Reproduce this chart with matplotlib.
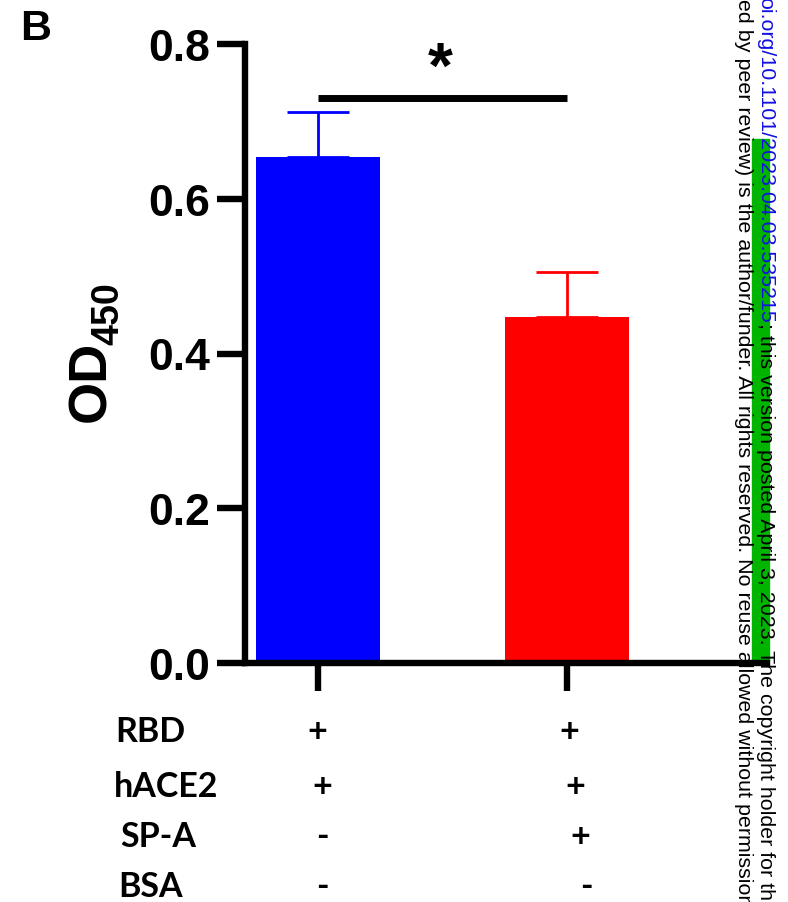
import matplotlib
matplotlib.use("Agg")
import matplotlib.pyplot as plt
from matplotlib.patches import Rectangle

# data
groups = [0, 1]
od450 = [0.654, 0.447]
od450_err = [0.058, 0.058]
bar_colors = ["#0000FF", "#FF0000"]
sig_y = 0.730
yticks = [0.0, 0.2, 0.4, 0.6, 0.8]

row_names = ["RBD", "hACE2", "SP-A", "BSA"]
col1 = ["+", "+", "-", "-"]
col2 = ["+", "+", "+", "-"]

W, H = 788, 903
fig = plt.figure(figsize=(W / 100, H / 100), dpi=100)

def fx(px):
    return px / W

def fy(py):
    return 1 - py / H

ax = fig.add_axes([fx(245), fy(664), fx(767) - fx(245), fy(45) - fy(664)])
ax.patch.set_visible(False)

ax.bar(groups, od450, width=0.5, color=bar_colors, zorder=2)
for g, m, e, c in zip(groups, od450, od450_err, bar_colors):
    ax.errorbar(g, m, yerr=[[0], [e]], fmt="none", ecolor=c, elinewidth=2,
                capsize=22, capthick=2, zorder=3)

ax.plot(groups, [sig_y, sig_y], color="black", lw=5, solid_capstyle="butt")
ax.text(0.49, 0.767, "*", ha="center", va="center", fontsize=46,
        fontweight="bold", family="Liberation Sans")

ax.set_xlim(-0.293, 1.803)
ax.set_ylim(0, 0.8)
ax.set_yticks(yticks)
ax.set_yticklabels(["%.1f" % v for v in yticks])
ax.set_xticks(groups)
ax.set_xticklabels([])
for s in ["top", "right"]:
    ax.spines[s].set_visible(False)
for s in ["left", "bottom"]:
    ax.spines[s].set_linewidth(4.6)
ax.tick_params(axis="y", length=20, width=4.6, pad=5, labelsize=32)
ax.tick_params(axis="x", length=20, width=4.6)
for lab in ax.get_yticklabels():
    lab.set_fontfamily("Liberation Sans")
    lab.set_fontweight("bold")

# y label OD450
fig.text(fx(105), fy(422), "OD", rotation=90, rotation_mode="anchor",
         ha="left", va="baseline", fontsize=39, fontweight="bold",
         family="Liberation Sans")
fig.text(fx(118), fy(345), "450", rotation=90, rotation_mode="anchor",
         ha="left", va="baseline", fontsize=27, fontweight="bold",
         family="Liberation Sans")

# panel letter
fig.text(fx(20), fy(40), "B", ha="left", va="baseline", fontsize=31,
         fontweight="bold", family="Liberation Sans")

# condition table
row_base = [742, 797, 847, 897]
row_x = [115, 114, 120, 118]
col1_x = [317, 322, 322, 322]
col2_x = [569, 575, 580, 586]
for i, name in enumerate(row_names):
    kw = dict(va="baseline", fontsize=24.5, fontweight="bold", family="Lato")
    fig.text(fx(row_x[i]), fy(row_base[i]), name, ha="left", **kw)
    fig.text(fx(col1_x[i]), fy(row_base[i]), col1[i], ha="center", **kw)
    fig.text(fx(col2_x[i]), fy(row_base[i]), col2[i], ha="center", **kw)

# preprint watermark at the right edge
fig.patches.append(Rectangle((fx(752), fy(662)), fx(769) - fx(752), fy(140) - fy(662),
                             transform=fig.transFigure, color="#00B400", zorder=-1))
renderer = fig.canvas.get_renderer()
wm = dict(rotation=-90, rotation_mode="anchor", ha="left", va="baseline",
          fontsize=15.4, family="Liberation Sans")
t_blue = fig.text(fx(760), fy(-3), "oi.org/10.1101/2023.04.03.535215",
                  color="#1010E0", **wm)
ext = t_blue.get_window_extent(renderer)
fig.text(fx(760), fy(-3 + ext.height), "; this version posted April 3, 2023. The copyright holder for this",
         color="black", **wm)
fig.text(fx(738), fy(-1), "ed by peer review) is the author/funder. All rights reserved. No reuse allowed without permission",
         color="black", **wm)

fig.savefig("out.png", dpi=100)
